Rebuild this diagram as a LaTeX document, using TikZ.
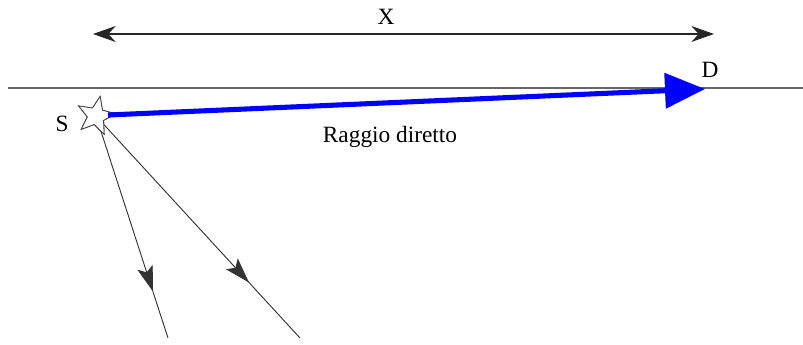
\documentclass[tikz,border=0pt]{standalone}
\usepackage{fontspec}
\setmainfont{Liberation Serif}
\usetikzlibrary{arrows.meta,shapes.geometric,decorations.markings}
\begin{document}
\begin{tikzpicture}[x=0.75pt,y=-0.75pt,
  lbl/.style={font=\fontsize{17.5}{20}\selectfont, inner sep=0pt},
  ray/.style={draw=black!80, line width=0.7pt,
    postaction={decorate},
    decoration={markings, mark=at position #1 with {\arrow{Stealth[length=19pt,width=12pt,inset=4pt]}}}},
  sstar/.style={star, star points=5, star point ratio=2.3, minimum size=30pt, inner sep=0pt,
      draw=black!75, fill=white, line width=0.6pt, rotate=-12},
  ]
\useasboundingbox (0,0) rectangle (803,345);
% horizon line
\coordinate (h1) at (8,88);
\coordinate (h2) at (803,88);
\draw[gray!80!black, line width=0.9pt] (h1) -- (h2);
% X dimension
\coordinate (xa) at (93,34);
\coordinate (xb) at (714,34);
\draw[black!85, line width=0.9pt, {Stealth[length=17pt,width=12pt]}-{Stealth[length=17pt,width=12pt]}] (xa) -- (xb);
\node[lbl] (X) at (386,17) {X};
% destination
\coordinate (D) at (705,89);
\node[lbl] (Dlab) at (710,70) {D};
% rays downward
\node[sstar] (S0) at (96,116) {};
\coordinate (r1) at (168,338);
\coordinate (r2) at (300,338);
\draw[ray=0.79] (S0.center) -- (r1);
\draw[ray=0.75] (S0.center) -- (r2);
% source star
\node[sstar] (S) at (96,116) {};
\node[lbl] (Slab) at (62,124) {S};
% direct ray
\draw[blue, line width=3.8pt, -{Triangle[length=30pt,width=26pt]}] (108,115) -- (D);
\node[lbl] (R) at (390,137) {Raggio diretto};
\end{tikzpicture}
\end{document}
